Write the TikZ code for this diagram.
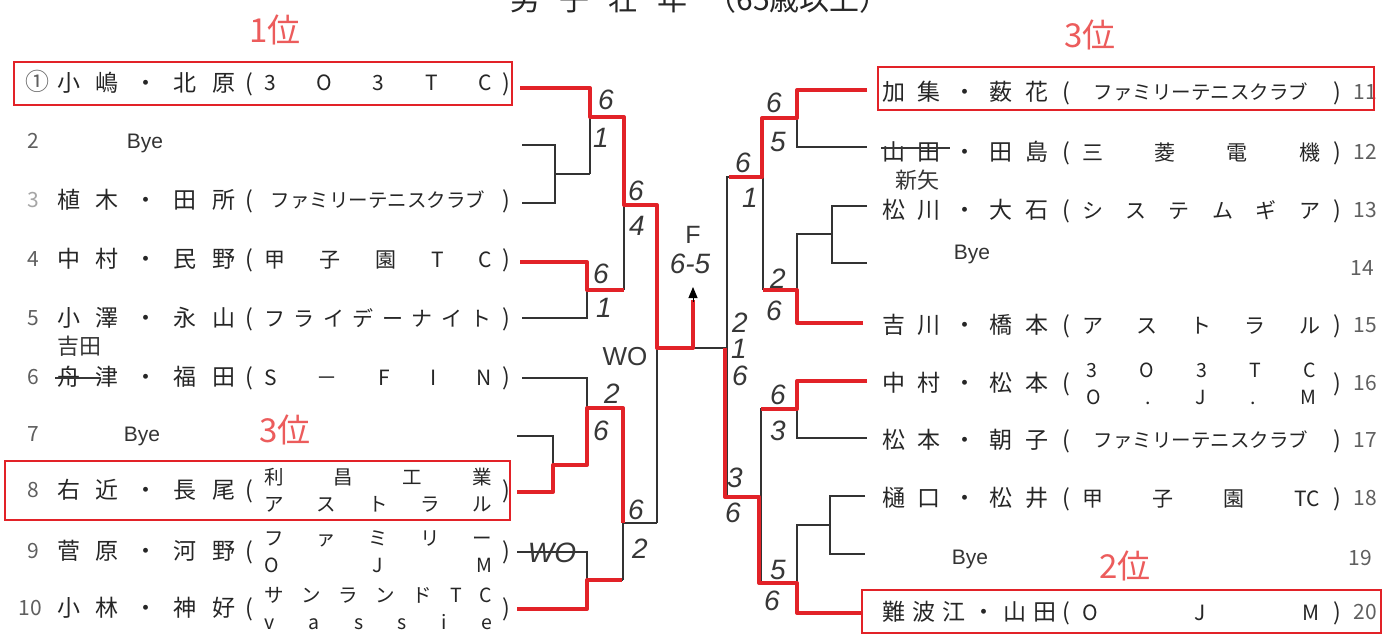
\documentclass[tikz,border=0pt]{standalone}
\usepackage{fontspec}
\setmainfont{Noto Sans CJK JP}
\newfontfamily\jp{Noto Sans CJK JP}
\newfontfamily\hwf{Liberation Sans}
\usetikzlibrary{arrows.meta}
\definecolor{redpen}{RGB}{226,34,40}
\definecolor{redink}{RGB}{236,92,92}
\definecolor{pencil}{RGB}{55,55,55}
\definecolor{numgray}{RGB}{95,95,95}
\newcommand\spr[2]{\makebox[#1][s]{#2}}
\newcommand\rowL[5][]{%
  \node[num,#1] (#2n) at (33,#3) {#4};
  \node[nm,anchor=west] (#2) at (57,#3) {\spr{178pt}{#5}};
  \node[nm] (#2o) at (249,#3) {(};
  \node[nm] (#2p) at (506,#3) {)};
}
\newcommand\rowR[5][]{%
  \node[num,#1] (#2n) at (1365,#3) {#4};
  \node[nm,anchor=west] (#2) at (882,#3) {#5};
  \node[nm] (#2o) at (1066,#3) {(};
  \node[nm] (#2p) at (1337,#3) {)};
}
\newcommand\clubL[4]{\node[#3] (#1c) at (378,#2) {#4};}
\newcommand\clubR[4]{\node[#3] (#1c) at (1201,#2) {#4};}
\newcommand\twoL[4]{%
  \node[tw] (#1c) at (378,#2-13) {\spr{228pt}{#3}};
  \node[tw] (#1d) at (378,#2+14) {\spr{228pt}{#4}};}
\newcommand\scr[4]{\node[hw] (#1) at (#2,#3) {#4};}
\begin{document}
\begin{tikzpicture}[x=1pt,y=-1pt,
  nm/.style={font=\jp\fontsize{23}{23}\selectfont, inner sep=0pt, text height=19pt, text depth=2pt, text=black!85},
  cl/.style={font=\jp\fontsize{21}{21}\selectfont, inner sep=0pt, text height=17.5pt, text depth=1.5pt, text=black!85},
  sm/.style={font=\jp\fontsize{19.5}{19.5}\selectfont, inner sep=0pt, text height=16pt, text depth=1pt, text=black!85},
  tw/.style={font=\jp\fontsize{19.5}{19.5}\selectfont, inner sep=0pt, text height=16pt, text depth=1pt, text=black!85},
  num/.style={font=\jp\fontsize{21}{21}\selectfont, inner sep=0pt, text height=16pt, text depth=1pt, text=numgray},
  bye/.style={font=\hwf\fontsize{21}{21}\selectfont, inner sep=0pt, text height=15pt, text depth=0pt, text=black!80},
  hw/.style={font=\hwf\itshape\fontsize{28}{28}\selectfont, inner sep=0pt, text height=20pt, text depth=0pt, text=pencil},
  redhw/.style={font=\jp\fontsize{33}{33}\selectfont, inner sep=0pt, text=redink},
  note/.style={font=\jp\fontsize{22}{22}\selectfont, inner sep=0pt, text=pencil},
  bk/.style={draw=black!80, line width=1.3pt},
  rd/.style={draw=redpen, line width=4pt, line join=round},
  redbox/.style={draw=redpen, line width=2.6pt},
  strike/.style={draw=pencil, line width=1.6pt}]
\useasboundingbox (0,0) rectangle (1392,634);
\fill[white] (0,0) rectangle (1392,634);

% title (cut at the top edge, as in the scan)
\node[font=\jp\fontsize{30}{30}\selectfont, anchor=base, inner sep=0pt, text=black!85] (title) at (700,11) {\spr{380pt}{男 子 壮 年 （65歳以上）}};

% ---------- left entries ----------
\rowL[font=\jp\fontsize{24}{24}\selectfont,xshift=4pt]{r1}{83}{①}{小 嶋 ・ 北 原}
\clubL{r1}{83}{cl}{\spr{228pt}{3 O 3 T C}}
\node[num] (r2n) at (33,141) {2};
\node[bye] (r2) at (145,141) {Bye};
\rowL[text=black!35]{r3}{200}{3}{植 木 ・ 田 所}
\clubL{r3}{200}{sm}{ファミリーテニスクラブ}
\rowL{r4}{259}{4}{中 村 ・ 民 野}
\clubL{r4}{259}{cl}{\spr{228pt}{甲 子 園 T C}}
\rowL{r5}{318}{5}{小 澤 ・ 永 山}
\clubL{r5}{318}{cl}{\spr{228pt}{フ ラ イ デ ー ナ イ ト}}
\rowL{r6}{377}{6}{舟 津 ・ 福 田}
\clubL{r6}{377}{cl}{\spr{228pt}{S － F I N}}
\node[num] (r7n) at (33,434) {7};
\node[bye] (r7) at (142,434) {Bye};
\rowL{r8}{490}{8}{右 近 ・ 長 尾}
\twoL{r8}{490}{利 昌 工 業}{ア ス ト ラ ル}
\rowL{r9}{551}{9}{菅 原 ・ 河 野}
\twoL{r9}{551}{フ ァ ミ リ ー}{O J M}
\rowL[xshift=-3pt]{r10}{608}{10}{小 林 ・ 神 好}
\twoL{r10}{608}{サ ン ラ ン ド T C}{v a s s i e}

% corrections left
\draw[strike] (55,378) -- (101,378);
\node[note] (n6) at (79,346) {吉田};

% ---------- right entries ----------
\rowR{r11}{92}{11}{\spr{166pt}{加 集 ・ 薮 花}}
\clubR{r11}{92}{sm}{ファミリーテニスクラブ}
\rowR{r12}{152}{12}{\spr{166pt}{山 田 ・ 田 島}}
\clubR{r12}{152}{cl}{\spr{238pt}{三 菱 電 機}}
\rowR{r13}{210}{13}{\spr{166pt}{松 川 ・ 大 石}}
\clubR{r13}{210}{cl}{\spr{238pt}{シ ス テ ム ギ ア}}
\node[bye] (r14) at (972,252) {Bye};
\node[num] (r14n) at (1362,268) {14};
\rowR{r15}{325}{15}{\spr{166pt}{吉 川 ・ 橋 本}}
\clubR{r15}{325}{cl}{\spr{238pt}{ア ス ト ラ ル}}
\rowR{r16}{383}{16}{\spr{166pt}{中 村 ・ 松 本}}
\node[tw] (r16c) at (1201,370) {\spr{230pt}{3 O 3 T C}};
\node[tw] (r16d) at (1201,397) {\spr{230pt}{O . J . M}};
\rowR{r17}{440}{17}{\spr{166pt}{松 本 ・ 朝 子}}
\clubR{r17}{440}{sm}{ファミリーテニスクラブ}
\rowR{r18}{498}{18}{\spr{166pt}{樋 口 ・ 松 井}}
\clubR{r18}{498}{cl}{\spr{238pt}{甲 子 園 TC}}
\node[bye] (r19) at (970,557) {Bye};
\node[num] (r19n) at (1360,558) {19};
\rowR{r20}{612}{20}{\spr{174pt}{難 波 江 ・ 山 田}}
\clubR{r20}{612}{cl}{\spr{238pt}{O J M}}

% corrections right
\draw[strike] (881,148) -- (950,148);
\node[note] (n12) at (917,180) {新矢};

% ---------- red boxes ----------
\draw[redbox] (14,62) rectangle (512,105);
\draw[redbox] (5,461) rectangle (510,520);
\draw[redbox] (878,67) rectangle (1374,110);
\draw[redbox] (862,590) rectangle (1381,633);

% ---------- bracket, left half ----------
\draw[bk] (522,88) -- (590,88) -- (590,174);
\draw[bk] (522,145) -- (555,145) -- (555,203) -- (522,203);
\draw[bk] (555,174) -- (590,174);
\draw[bk] (590,117) -- (624,117) -- (624,290);
\draw[bk] (522,262) -- (587,262) -- (587,318) -- (522,318);
\draw[bk] (587,290) -- (624,290);
\draw[bk] (624,205) -- (657,205) -- (657,523);
\draw[bk] (522,378) -- (587,378) -- (587,465);
\draw[bk] (517,436) -- (553,436) -- (553,492) -- (517,492);
\draw[bk] (553,465) -- (587,465);
\draw[bk] (587,408) -- (623,408) -- (623,580);
\draw[bk] (517,552) -- (587,552) -- (587,609) -- (517,609);
\draw[bk] (587,580) -- (623,580);
\draw[bk] (623,523) -- (657,523);
\draw[bk] (657,348) -- (727,348);

% ---------- bracket, right half ----------
\draw[bk] (867,90) -- (797,90) -- (797,147) -- (867,147);
\draw[bk] (797,118) -- (763,118) -- (763,290);
\draw[bk] (867,206) -- (832,206) -- (832,263) -- (867,263);
\draw[bk] (832,234) -- (797,234) -- (797,323) -- (863,323);
\draw[bk] (797,290) -- (763,290);
\draw[bk] (763,177) -- (727,177) -- (727,497);
\draw[bk] (867,381) -- (797,381) -- (797,438) -- (867,438);
\draw[bk] (797,409) -- (761,409) -- (761,583);
\draw[bk] (865,496) -- (830,496) -- (830,554) -- (865,554);
\draw[bk] (830,525) -- (797,525) -- (797,613) -- (863,613);
\draw[bk] (797,583) -- (761,583);
\draw[bk] (761,497) -- (727,497);

% ---------- red winner paths ----------
\draw[rd] (520,88) -- (590,88) -- (590,117) -- (624,117) -- (624,205) -- (657,205) -- (657,348) -- (693,348) -- (693,300);
\draw[black, line width=1pt, -{Triangle[length=11pt,width=9pt]}] (693,302) -- (693,287);
\draw[rd] (520,262) -- (587,262) -- (587,290) -- (624,290);
\draw[rd] (517,492) -- (553,492) -- (553,465) -- (587,465) -- (587,408) -- (623,408) -- (623,523);
\draw[rd] (517,609) -- (587,609) -- (587,580) -- (622,580);
\draw[rd] (867,90) -- (797,90) -- (797,118) -- (762,118) -- (762,177) -- (729,177);
\draw[rd] (863,323) -- (797,323) -- (797,290) -- (763,290);
\draw[rd] (867,381) -- (797,381) -- (797,409) -- (761,409);
\draw[rd] (863,613) -- (797,613) -- (797,583) -- (759,583) -- (759,497) -- (725,497) -- (725,348);

% ---------- scores ----------
\scr{s1}{606}{100}{6}
\scr{s2}{601}{137}{1}
\scr{s3}{636}{190}{6}
\scr{s4}{637}{225}{4}
\scr{s5}{601}{273}{6}
\scr{s6}{604}{307}{1}
\node[hw,font=\hwf\fontsize{26}{26}\selectfont] (s7) at (625,355) {WO};
\scr{s8}{612}{393}{2}
\scr{s9}{601}{430}{6}
\scr{s10}{636}{509}{6}
\scr{s11}{640}{548}{2}
\node[hw] (s12) at (552,552) {WO};
\node[font=\hwf\fontsize{25}{25}\selectfont, inner sep=0pt, text=pencil] (fin) at (693,235) {F};
\scr{s13}{690}{263}{6-5}
\scr{s14}{774}{102}{6}
\scr{s15}{778}{141}{5}
\scr{s16}{743}{162}{6}
\scr{s17}{750}{197}{1}
\scr{s18}{778}{278}{2}
\scr{s19}{774}{310}{6}
\scr{s20}{740}{322}{2}
\scr{s21}{739}{348}{1}
\scr{s22}{740}{375}{6}
\scr{s23}{778}{394}{6}
\scr{s24}{778}{430}{3}
\scr{s25}{735}{477}{3}
\scr{s26}{733}{512}{6}
\scr{s27}{778}{569}{5}
\scr{s28}{772}{600}{6}

% ---------- rankings ----------
\node[redhw] (p1) at (275,30) {1位};
\node[redhw] (p3a) at (1090,35) {3位};
\node[redhw] (p3b) at (285,430) {3位};
\node[redhw] (p2) at (1125,566) {2位};
\end{tikzpicture}
\end{document}
